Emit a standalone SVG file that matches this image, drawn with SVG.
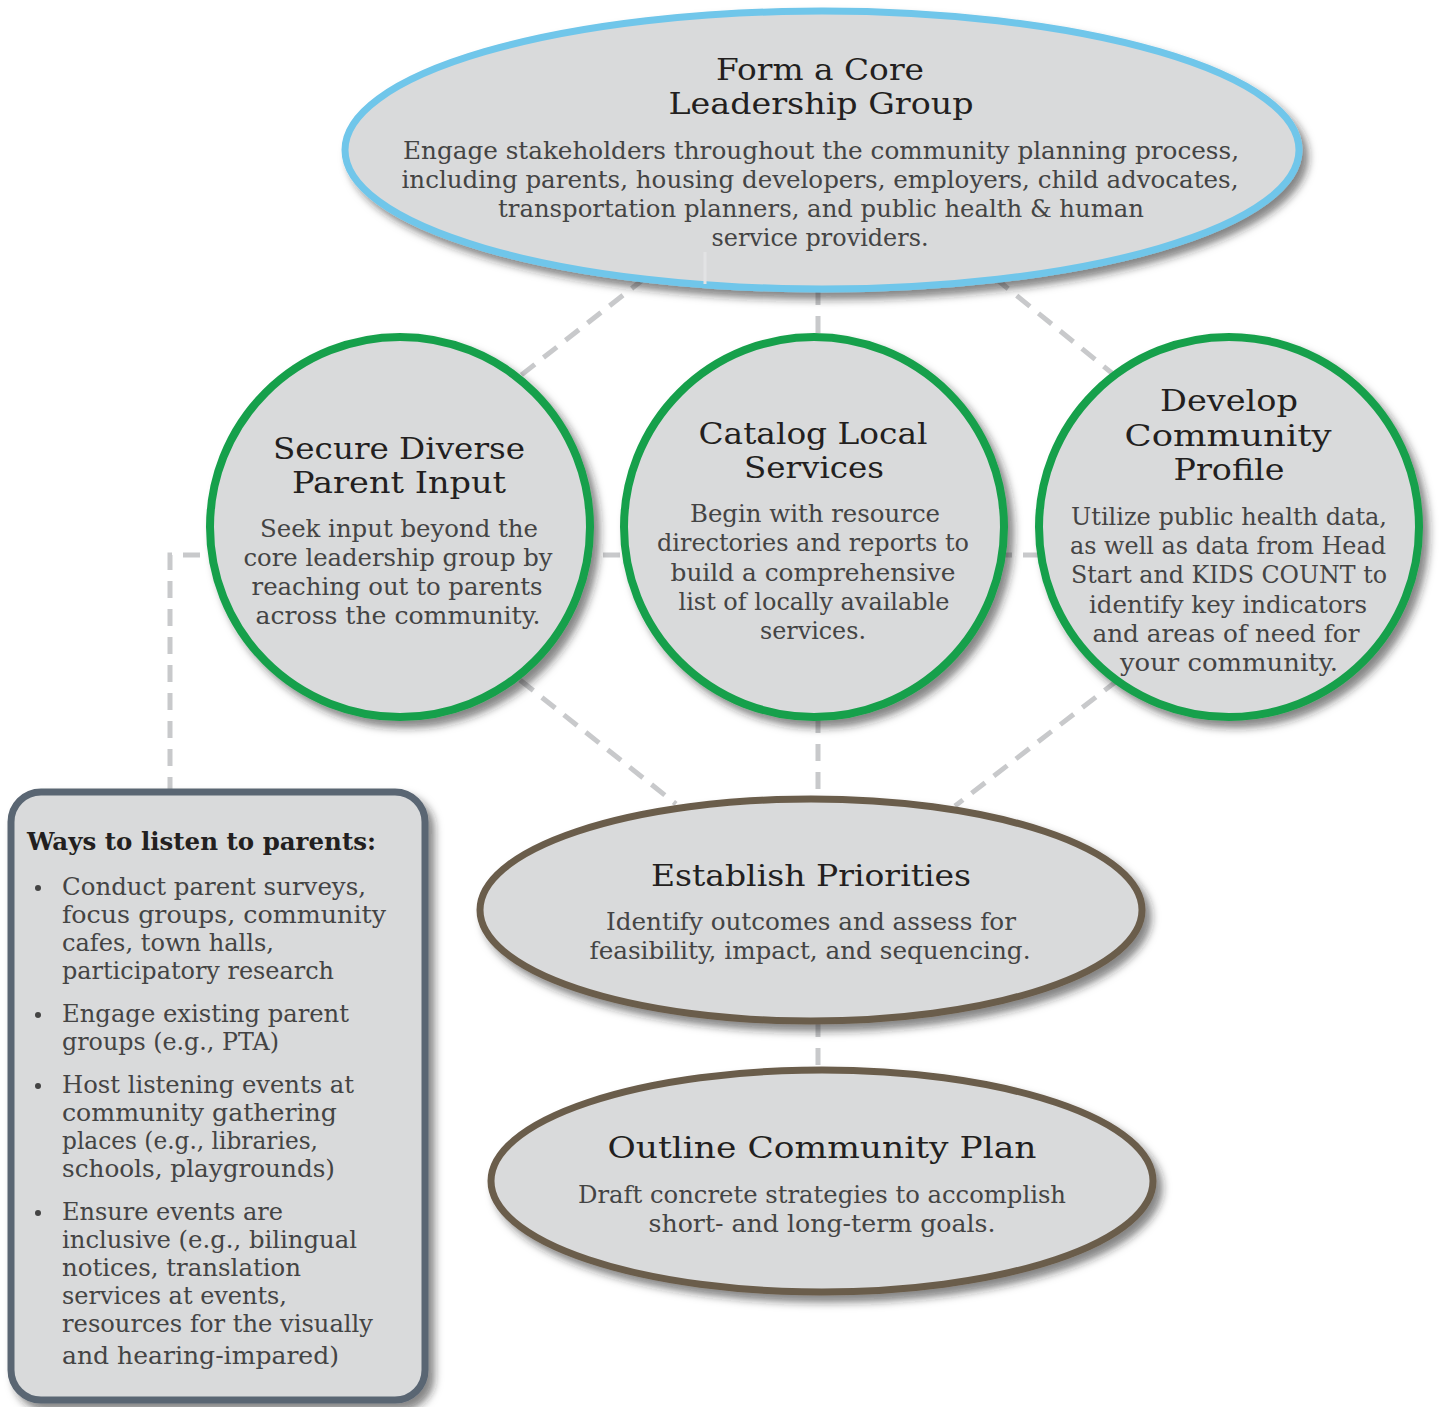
<svg xmlns="http://www.w3.org/2000/svg" width="1443" height="1407" viewBox="0 0 1443 1407">
<defs>
<filter id="sh" x="-10%" y="-10%" width="125%" height="130%">
<feDropShadow dx="6" dy="7" stdDeviation="4" flood-color="#222" flood-opacity="0.55"/>
</filter>
</defs>
<style>
.node{fill:#d9dadb;filter:url(#sh)}
.blue{stroke:#70c6ea;stroke-width:7}
.green{stroke:#17a04b;stroke-width:8}
.brown{stroke:#6b5d4b;stroke-width:7}
.slate{stroke:#5a6673;stroke-width:7}
.conn{stroke:#c8c9cb;stroke-width:5;stroke-dasharray:17 11;fill:none}
.t{font-family:"DejaVu Serif","Liberation Serif",serif;font-size:30px;fill:#231f20;text-anchor:middle}
.b{font-family:"DejaVu Serif","Liberation Serif",serif;font-size:24px;fill:#444444;text-anchor:middle}
.l{font-family:"DejaVu Serif","Liberation Serif",serif;font-size:24px;fill:#444444}
.h{font-family:"DejaVu Serif","Liberation Serif",serif;font-size:24px;font-weight:bold;fill:#231f20}
</style>
<rect width="1443" height="1407" fill="#ffffff"/>
<g id="connectors">
<line class="conn" x1="645" y1="278" x2="520" y2="376"/>
<line class="conn" x1="818" y1="288" x2="818" y2="342"/>
<line class="conn" x1="995" y1="278" x2="1118" y2="378"/>
<path class="conn" d="M1040 555 H170 V790"/>
<line class="conn" x1="520" y1="680" x2="676" y2="804"/>
<line class="conn" x1="818" y1="716" x2="818" y2="800"/>
<line class="conn" x1="1118" y1="680" x2="955" y2="806"/>
<line class="conn" x1="818" y1="1020" x2="818" y2="1070"/>
</g>
<g id="node-core">
<ellipse class="node blue" cx="822" cy="150" rx="477" ry="139"/>
<line x1="705" y1="252" x2="705" y2="284" stroke="#e2e3e4" stroke-width="3"/>
<text class="t" x="820" y="80" textLength="208" lengthAdjust="spacingAndGlyphs">Form a Core</text>
<text class="t" x="821" y="114" textLength="305" lengthAdjust="spacingAndGlyphs">Leadership Group</text>
<text class="b" x="821" y="159" textLength="836" lengthAdjust="spacingAndGlyphs">Engage stakeholders throughout the community planning process,</text>
<text class="b" x="820" y="188" textLength="837" lengthAdjust="spacingAndGlyphs">including parents, housing developers, employers, child advocates,</text>
<text class="b" x="821" y="217" textLength="646" lengthAdjust="spacingAndGlyphs">transportation planners, and public health &amp; human</text>
<text class="b" x="820" y="246" textLength="217" lengthAdjust="spacingAndGlyphs">service providers.</text>
</g>
<g id="node-secure">
<circle class="node green" cx="400" cy="527" r="190"/>
<text class="t" x="399" y="459" textLength="252" lengthAdjust="spacingAndGlyphs">Secure Diverse</text>
<text class="t" x="399" y="493" textLength="214" lengthAdjust="spacingAndGlyphs">Parent Input</text>
<text class="b" x="399" y="537" textLength="278" lengthAdjust="spacingAndGlyphs">Seek input beyond the</text>
<text class="b" x="398" y="566" textLength="309" lengthAdjust="spacingAndGlyphs">core leadership group by</text>
<text class="b" x="397" y="595" textLength="291" lengthAdjust="spacingAndGlyphs">reaching out to parents</text>
<text class="b" x="398" y="624" textLength="285" lengthAdjust="spacingAndGlyphs">across the community.</text>
</g>
<g id="node-catalog">
<circle class="node green" cx="814" cy="527" r="190"/>
<text class="t" x="813" y="444" textLength="229" lengthAdjust="spacingAndGlyphs">Catalog Local</text>
<text class="t" x="814" y="478" textLength="140" lengthAdjust="spacingAndGlyphs">Services</text>
<text class="b" x="815" y="522" textLength="250" lengthAdjust="spacingAndGlyphs">Begin with resource</text>
<text class="b" x="813" y="551" textLength="312" lengthAdjust="spacingAndGlyphs">directories and reports to</text>
<text class="b" x="813" y="581" textLength="285" lengthAdjust="spacingAndGlyphs">build a comprehensive</text>
<text class="b" x="814" y="610" textLength="271" lengthAdjust="spacingAndGlyphs">list of locally available</text>
<text class="b" x="813" y="639" textLength="106" lengthAdjust="spacingAndGlyphs">services.</text>
</g>
<g id="node-profile">
<circle class="node green" cx="1229" cy="527" r="190"/>
<text class="t" x="1229" y="411" textLength="138" lengthAdjust="spacingAndGlyphs">Develop</text>
<text class="t" x="1228" y="446" textLength="207" lengthAdjust="spacingAndGlyphs">Community</text>
<text class="t" x="1229" y="480" textLength="111" lengthAdjust="spacingAndGlyphs">Profile</text>
<text class="b" x="1229" y="525" textLength="316" lengthAdjust="spacingAndGlyphs">Utilize public health data,</text>
<text class="b" x="1228" y="554" textLength="316" lengthAdjust="spacingAndGlyphs">as well as data from Head</text>
<text class="b" x="1229" y="583" textLength="316" lengthAdjust="spacingAndGlyphs">Start and KIDS COUNT to</text>
<text class="b" x="1228" y="613" textLength="278" lengthAdjust="spacingAndGlyphs">identify key indicators</text>
<text class="b" x="1226" y="642" textLength="267" lengthAdjust="spacingAndGlyphs">and areas of need for</text>
<text class="b" x="1229" y="671" textLength="218" lengthAdjust="spacingAndGlyphs">your community.</text>
</g>
<g id="node-priorities">
<ellipse class="node brown" cx="811" cy="910" rx="331" ry="111"/>
<text class="t" x="811" y="886" textLength="320" lengthAdjust="spacingAndGlyphs">Establish Priorities</text>
<text class="b" x="811" y="930" textLength="410" lengthAdjust="spacingAndGlyphs">Identify outcomes and assess for</text>
<text class="b" x="810" y="959" textLength="441" lengthAdjust="spacingAndGlyphs">feasibility, impact, and sequencing.</text>
</g>
<g id="node-plan">
<ellipse class="node brown" cx="822" cy="1181" rx="331" ry="111"/>
<text class="t" x="822" y="1158" textLength="429" lengthAdjust="spacingAndGlyphs">Outline Community Plan</text>
<text class="b" x="822" y="1203" textLength="488" lengthAdjust="spacingAndGlyphs">Draft concrete strategies to accomplish</text>
<text class="b" x="822" y="1232" textLength="347" lengthAdjust="spacingAndGlyphs">short- and long-term goals.</text>
</g>
<g id="node-listen">
<rect class="node slate" x="11" y="792" width="414" height="608" rx="30"/>
<text class="h" x="27" y="850" textLength="349" lengthAdjust="spacingAndGlyphs">Ways to listen to parents:</text>
<g>
<circle cx="38" cy="888" r="3" fill="#444444"/>
<circle cx="38" cy="1015" r="3" fill="#444444"/>
<circle cx="38" cy="1086" r="3" fill="#444444"/>
<circle cx="38" cy="1213" r="3" fill="#444444"/>
<text class="l" x="62" y="895" textLength="304" lengthAdjust="spacingAndGlyphs">Conduct parent surveys,</text>
<text class="l" x="62" y="923" textLength="324" lengthAdjust="spacingAndGlyphs">focus groups, community</text>
<text class="l" x="62" y="951" textLength="212" lengthAdjust="spacingAndGlyphs">cafes, town halls,</text>
<text class="l" x="62" y="979" textLength="272" lengthAdjust="spacingAndGlyphs">participatory research</text>
<text class="l" x="62" y="1022" textLength="287" lengthAdjust="spacingAndGlyphs">Engage existing parent</text>
<text class="l" x="62" y="1050" textLength="217" lengthAdjust="spacingAndGlyphs">groups (e.g., PTA)</text>
<text class="l" x="62" y="1093" textLength="292" lengthAdjust="spacingAndGlyphs">Host listening events at</text>
<text class="l" x="62" y="1121" textLength="275" lengthAdjust="spacingAndGlyphs">community gathering</text>
<text class="l" x="62" y="1149" textLength="256" lengthAdjust="spacingAndGlyphs">places (e.g., libraries,</text>
<text class="l" x="62" y="1177" textLength="273" lengthAdjust="spacingAndGlyphs">schools, playgrounds)</text>
<text class="l" x="62" y="1220" textLength="221" lengthAdjust="spacingAndGlyphs">Ensure events are</text>
<text class="l" x="62" y="1248" textLength="295" lengthAdjust="spacingAndGlyphs">inclusive (e.g., bilingual</text>
<text class="l" x="62" y="1276" textLength="239" lengthAdjust="spacingAndGlyphs">notices, translation</text>
<text class="l" x="62" y="1304" textLength="225" lengthAdjust="spacingAndGlyphs">services at events,</text>
<text class="l" x="62" y="1332" textLength="311" lengthAdjust="spacingAndGlyphs">resources for the visually</text>
<text class="l" x="62" y="1364" textLength="277" lengthAdjust="spacingAndGlyphs">and hearing-impared)</text>
</g>
</g>
</svg>
